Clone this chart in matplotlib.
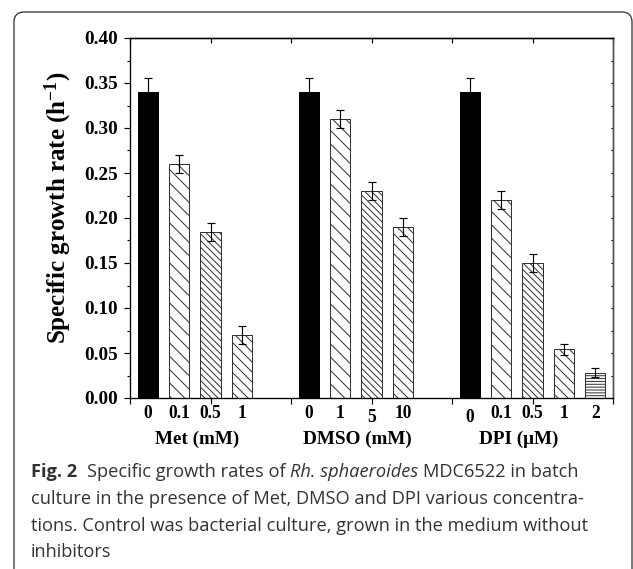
import numpy as np
import matplotlib
matplotlib.use('Agg')
import matplotlib.pyplot as plt
from matplotlib.patches import FancyBboxPatch

# growth rates (h^-1)
groups = ['Met (mM)', 'DMSO (mM)', 'DPI (\u03bcM)']
met_conc = ['0', '0.1', '0.5', '1']
met_rate = [0.340, 0.260, 0.185, 0.070]
met_err = [0.015, 0.010, 0.010, 0.010]
dmso_conc = ['0', '1', '5', '10']
dmso_rate = [0.340, 0.310, 0.230, 0.190]
dmso_err = [0.015, 0.010, 0.010, 0.010]
dpi_conc = ['0', '0.1', '0.5', '1', '2']
dpi_rate = [0.340, 0.220, 0.150, 0.054, 0.028]
dpi_err = [0.015, 0.010, 0.010, 0.006, 0.005]

caption_lines = [
    'culture in the presence of Met, DMSO and DPI various concentra-',
    'tions. Control was bacterial culture, grown in the medium without',
    'inhibitors',
]

W, H, DPI = 633, 569, 120
plt.rcParams['mathtext.fontset'] = 'custom'
plt.rcParams['mathtext.rm'] = 'Liberation Serif:bold'
plt.rcParams['mathtext.it'] = 'Liberation Serif:bold:italic'
plt.rcParams['mathtext.bf'] = 'Liberation Serif:bold'
plt.rcParams['hatch.linewidth'] = 0.6

serif = dict(family='Liberation Serif', fontweight='bold')
hatches = [None, '\\' * 3, '\\' * 6, '\\' * 4, '-' * 7]
lowered = {(1, 2), (2, 0)}

fig = plt.figure(figsize=(W / DPI, H / DPI), dpi=DPI)
ax = fig.add_axes([130 / W, 1 - 398 / H, 483 / W, 360 / H])

data = [(met_conc, met_rate, met_err),
        (dmso_conc, dmso_rate, dmso_err),
        (dpi_conc, dpi_rate, dpi_err)]

pitch, width = 0.39, 0.25
for g, (conc, rate, err) in enumerate(data):
    centre = 2 * g + 1
    xs = [centre + (j - 2) * pitch for j in range(len(rate))]
    for j, x in enumerate(xs):
        if j == 0:
            ax.bar(x, rate[j], width, color='black', edgecolor='black', lw=0.6)
        else:
            ax.bar(x, rate[j], width, color='white', edgecolor='#333333',
                   hatch=hatches[j], lw=0.6)
        dy = -19 if (g, j) in lowered else -15
        ax.annotate(conc[j], xy=(x, 0), xycoords=('data', 'axes fraction'),
                    xytext=(0, dy), textcoords='offset pixels',
                    ha='center', va='center', fontsize=10.5, **serif)
    ax.errorbar(xs, rate, yerr=err, fmt='none', ecolor='black',
                elinewidth=0.7, capsize=2.2, capthick=0.7)
    ax.annotate(groups[g], xy=(centre - 0.17, 0), xycoords=('data', 'axes fraction'),
                xytext=(0, -41), textcoords='offset pixels',
                ha='center', va='center', fontsize=11.5, **serif)

ax.set_xlim(0, 6)
ax.set_ylim(0, 0.40)
ax.set_xticks(np.arange(0, 7))
ax.set_xticklabels([])
ax.set_yticks(np.arange(0, 0.401, 0.05))
ax.set_yticks(np.arange(0, 0.401, 0.025), minor=True)
ax.yaxis.set_major_formatter(matplotlib.ticker.FormatStrFormatter('%.2f'))
ax.tick_params(axis='y', which='major', direction='out', length=3.6, width=0.7,
               pad=3.6, labelsize=11.5)
ax.tick_params(axis='y', which='minor', direction='out', length=2.0, width=0.7)
ax.tick_params(axis='x', direction='out', length=3.4, width=0.7)
for lab in ax.get_yticklabels():
    lab.set_family('Liberation Serif')
    lab.set_fontweight('bold')
for s in ax.spines.values():
    s.set_linewidth(0.8)
ax.spines['right'].set_color('#555555')

top = ax.secondary_xaxis('top')
top.set_xticks(np.arange(0, 7))
top.set_xticklabels([])
top.tick_params(direction='in', length=3.0, width=0.7)
right = ax.secondary_yaxis('right')
right.set_yticks(np.arange(0, 0.401, 0.025))
right.set_yticklabels([])
right.tick_params(direction='in', length=1.2, width=0.7)

ax.set_ylabel('Specific growth rate (h$^{-1}$)', fontsize=15, **serif)
ax.yaxis.set_label_coords((74 - 130) / 483, (398 - 208) / 360)

# caption box with rounded top corners
box = FancyBboxPatch((14 / W, -0.2), (632 - 14) / W, 1 - 12 / H + 0.2,
                     boxstyle='round,pad=0,rounding_size=%f' % (10 / W),
                     mutation_aspect=W / H, transform=fig.transFigure,
                     fill=False, ec='#3a3a3a', lw=0.8)
fig.add_artist(box)

renderer = fig.canvas.get_renderer()
cap_col = '#333333'
cap_font = 'Open Sans'


def text_width(s, **kw):
    t = fig.text(0, 0, s, **kw)
    w = t.get_window_extent(renderer).width
    t.remove()
    return w


probe = 10
fs = probe * 557 / text_width(caption_lines[1], fontsize=probe, family=cap_font)
space = (text_width('x x', fontsize=fs, family=cap_font)
         - text_width('xx', fontsize=fs, family=cap_font))

runs = [('Fig. 2', 'bold', 'normal', 2),
        ('Specific growth rates of', 'normal', 'normal', 1),
        ('Rh. sphaeroides', 'normal', 'italic', 1),
        ('MDC6522 in batch', 'normal', 'normal', 0)]
x = 31
for s, wt, st, gap in runs:
    t = fig.text(x / W, 1 - 477 / H, s, fontsize=fs, family=cap_font,
                 fontweight=wt, fontstyle=st, color=cap_col, va='baseline')
    x += t.get_window_extent(renderer).width + gap * space

for i, line in enumerate(caption_lines):
    fig.text(31 / W, 1 - (504 + 26.7 * i) / H, line, fontsize=fs, family=cap_font,
             color=cap_col, va='baseline')

fig.savefig('out.png', dpi=DPI)
